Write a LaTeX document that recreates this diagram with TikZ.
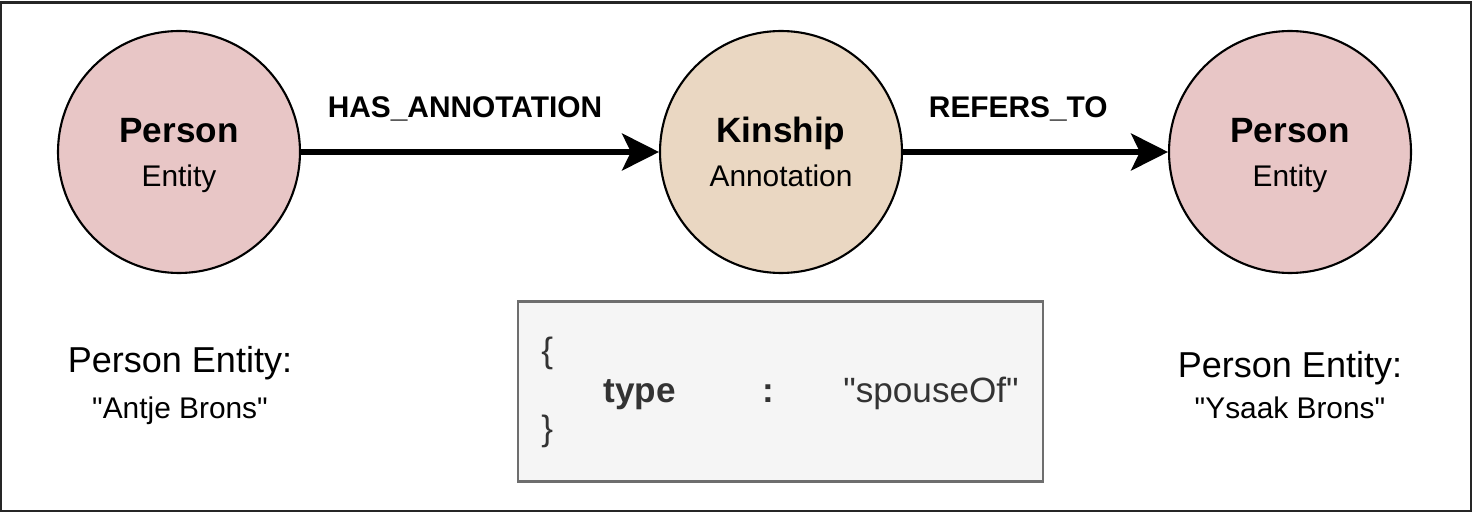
\documentclass[tikz,border=0pt]{standalone}
\usepackage{fontspec}
\setmainfont{Liberation Sans}
\usetikzlibrary{arrows.meta}
\definecolor{personfill}{HTML}{E8C6C6}
\definecolor{kinfill}{HTML}{EAD7C2}
\definecolor{boxfill}{HTML}{F5F5F5}
\definecolor{boxline}{HTML}{6E6E6E}
\definecolor{boxtext}{HTML}{333333}

\begin{document}
\begin{tikzpicture}[x=0.02cm,y=-0.02cm,
   entity/.style={circle,draw,line width=1.2pt,minimum size=4.84cm,inner sep=0pt,
    align=center,text depth=0pt,font=\fontsize{17}{25}\selectfont},
   rel/.style={-{Stealth[length=21pt,width=21pt,inset=5pt]},line width=3pt},
   rellabel/.style={anchor=base,yshift=0.7cm,font=\fontsize{17}{20}\selectfont\bfseries},
   heading/.style={anchor=base,font=\fontsize{20.5}{24}\selectfont},
   quoted/.style={anchor=base,font=\fontsize{17}{20}\selectfont},
   codetext/.style={anchor=base west,inner sep=0pt,text=boxtext,font=\fontsize{20}{24}\selectfont}]
   \useasboundingbox (0,0) rectangle (1473,513);
   \draw[line width=1.4pt,black!85] (1,2.5) rectangle (1471,511);
   \node[entity,fill=personfill] (src) at (179,152)
    {{\fontsize{20}{25}\selectfont\bfseries Person}\\Entity};
   \node[entity,fill=kinfill] (kin) at (781,152)
    {{\fontsize{20}{25}\selectfont\bfseries Kinship}\\Annotation};
   \node[entity,fill=personfill] (dst) at (1290,152)
    {{\fontsize{20}{25}\selectfont\bfseries Person}\\Entity};
   \draw[rel] (src) -- node[rellabel,pos=0.458] (hasann) {HAS\_ANNOTATION} (kin);
   \draw[rel] (kin) -- node[rellabel,pos=0.435] (refto) {REFERS\_TO} (dst);
   \node[draw=boxline,line width=1.5pt,fill=boxfill,minimum width=10.5cm,
    minimum height=3.6cm] (attrs) at (780.5,391.5) {};
   \node[codetext] (lbrace) at (541,362) {\{};
   \node[codetext] (key) at (603,402) {\bfseries type};
   \node[codetext] (colon) at (762,402) {\bfseries :};
   \node[codetext] (val) at (843,402) {\textquotedbl spouseOf\textquotedbl};
   \node[codetext] (rbrace) at (541,440) {\}};
   \node[heading] (srccap) at (180,372) {Person Entity:};
   \node[quoted] (srcname) at (180,418) {\textquotedbl Antje Brons\textquotedbl};
   \node[heading] (dstcap) at (1290,377) {Person Entity:};
   \node[quoted] (dstname) at (1290,418) {\textquotedbl Ysaak Brons\textquotedbl};
  \end{tikzpicture}
\end{document}
